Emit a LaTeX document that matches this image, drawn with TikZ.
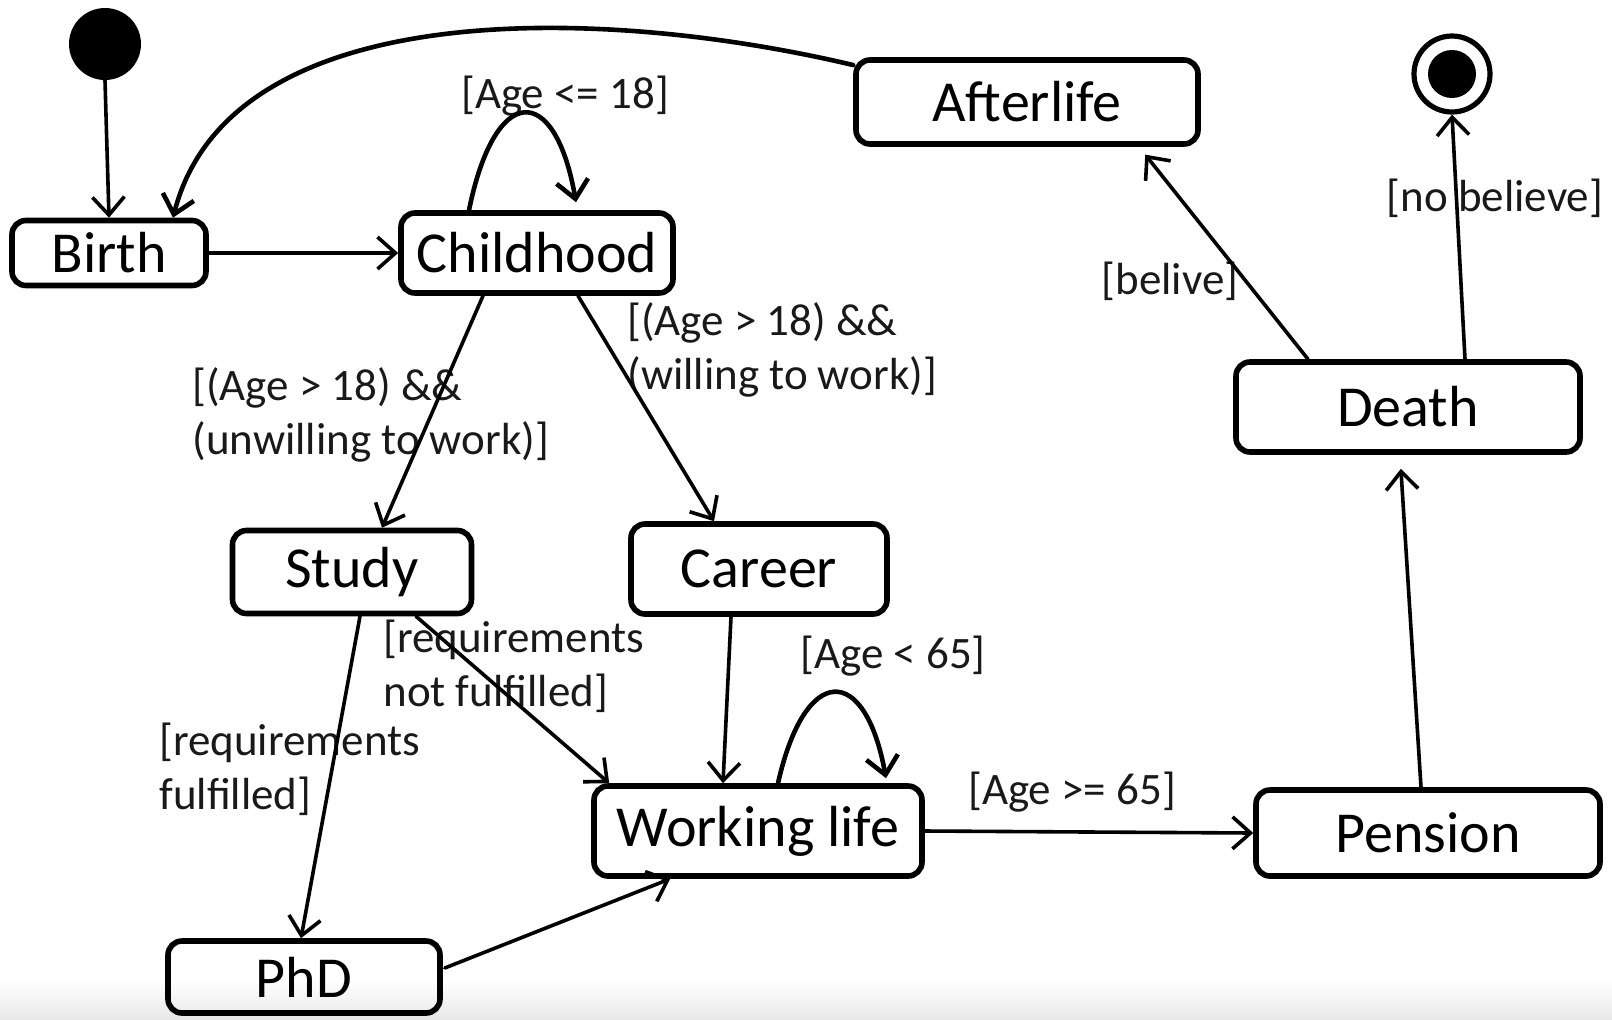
\documentclass[tikz,border=0pt]{standalone}
\usepackage{fontspec}
\setmainfont{Carlito}
\usetikzlibrary{arrows.meta,calc}
\begin{document}
\begin{tikzpicture}[x=0.5pt,y=-0.5pt,
  state/.style={draw, line width=2.8pt, rounded corners=7pt, inner sep=0pt,
    font=\fontsize{29}{35}\selectfont},
  lbl/.style={font=\fontsize{22.5}{27}\selectfont, text=black!90, align=left, inner sep=0pt},
  conn/.style={line width=1.8pt, line cap=round, -{Straight Barb[length=9pt,width=16pt]}},
  heavy/.style={conn, line width=2.3pt}]
\useasboundingbox (0,0) rectangle (1612,1019);
\shade[top color=white, bottom color=black!9] (0,980) rectangle (1612,1019);

% states
\node[circle, fill=black, minimum size=36pt, inner sep=0pt] (init) at (105,44) {};
\node[circle, draw, line width=2.6pt, minimum size=38pt, inner sep=0pt] (final) at (1452,74) {};
\node[circle, fill=black, minimum size=24pt, inner sep=0pt] (finalin) at (1452,74) {};

\node[state, minimum width=97pt,  minimum height=32.5pt] (birth)     at (109,253) {Birth};
\node[state, minimum width=136pt, minimum height=40pt]   (childhood) at (537,253) {Childhood};
\node[state, minimum width=171pt, minimum height=42pt]   (afterlife) at (1027,102) {Afterlife};
\node[state, minimum width=172pt, minimum height=45pt]   (death)     at (1408,407) {Death};
\node[state, minimum width=119.5pt, minimum height=41.5pt] (study)   at (352,572) {Study};
\node[state, minimum width=128pt, minimum height=45pt]   (career)    at (759,569) {Career};
\node[state, minimum width=164pt, minimum height=45pt]   (working)   at (758,831) {Working life};
\node[state, minimum width=172pt, minimum height=43pt]   (pension)   at (1428,833) {Pension};
\node[state, minimum width=136pt, minimum height=36pt]   (phd)       at (304,977) {PhD};

% labels
\node[lbl] (l1) at (565,96) {[Age <= 18]};
\node[lbl, anchor=west] (l2) at (627,350) {[(Age > 18) \&\&\\(willing to work)]};
\node[lbl, anchor=west] (l3) at (192,415) {[(Age > 18) \&\&\\(unwilling to work)]};
\node[lbl, anchor=west] (l4) at (383,666) {[requirements\\not fulfilled]};
\node[lbl] (l5) at (893,656) {[Age < 65]};
\node[lbl, anchor=west] (l6) at (159,769) {[requirements\\fulfilled]};
\node[lbl] (l7) at (1072,792) {[Age >= 65]};
\node[lbl] (l8) at (1170,281) {[belive]};
\node[lbl] (l9) at (1495,198) {[no believe]};

% connectors
\draw[conn] (init.south) -- (birth.north);
\draw[conn] (birth.east) -- (childhood.west);
\draw[heavy] (afterlife.168) .. controls (600,5) and (230,-5) .. ($(birth.north)+(64,0)$);
\draw[heavy] ($(childhood.north)+(-68,0)$) .. controls (495,82) and (555,82) .. ($(childhood.north)+(39,-8)$);
\draw[heavy] ($(working.north)+(20,0)$) .. controls (805,663) and (865,663) .. ($(working.north)+(128,-5)$);
\draw[conn] ($(childhood.south)+(-54,0)$) -- ($(study.north)+(30,0)$);
\draw[conn] ($(childhood.south)+(41,0)$) -- ($(career.north)+(-45,0)$);
\draw[conn] ($(study.south)+(8,0)$) -- ($(phd.north)+(-3,0)$);
\draw[conn] ($(study.south)+(64,0)$) -- ($(working.north west)+(18,0)$);
\draw[conn] ($(career.south)+(-28,0)$) -- ($(working.north)+(-35,0)$);
\draw[conn] ($(phd.east)+(2,-9)$) -- ($(working.south west)+(79,0)$);
\draw[conn] (working.east) -- (pension.west);
\draw[conn, shorten >=7pt] ($(pension.north)+(-7,0)$) -- ($(death.south)+(-8,0)$);
\draw[conn, shorten >=5pt] ($(death.north)+(-100,0)$) -- ($(afterlife.south)+(112,0)$);
\draw[conn] ($(death.north)+(57,0)$) -- (final.south);
\end{tikzpicture}
\end{document}
